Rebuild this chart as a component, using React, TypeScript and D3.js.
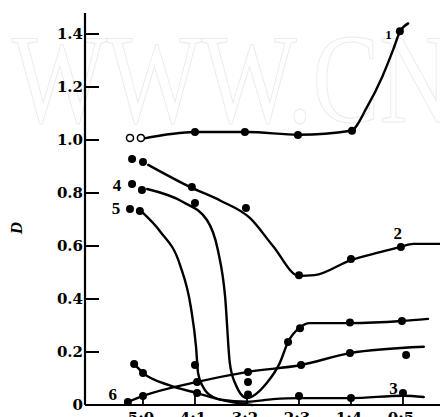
import * as d3 from "d3";

// ratio categories on the x axis (index 0..5)
const ratioLabels = ["5:0", "4:1", "3:2", "2:3", "1:4", "0:5"];
const yTicks = [0, 0.2, 0.4, 0.6, 0.8, 1.0, 1.2, 1.4];

// measured points [ratio index, D]
const pts1 = [[1, 1.03], [1.96, 1.03], [2.98, 1.019], [4.02, 1.035], [4.94, 1.41]];
const open1 = [[-0.25, 1.008], [-0.04, 1.008]];
const pts2 = [[-0.21, 0.928], [0, 0.917], [0.94, 0.823], [1.98, 0.743], [3, 0.49], [4, 0.551], [4.96, 0.596]];
const pts3 = [[-0.17, 0.155], [0, 0.121], [1.04, 0.045], [3.0, 0.034], [4.0, 0.026], [5.0, 0.045]];
const pts4 = [[-0.21, 0.834], [-0.02, 0.811], [1.0, 0.762], [2.02, 0.04], [2.79, 0.238], [3.02, 0.29], [3.98, 0.311], [4.98, 0.317]];
const pts5 = [[-0.25, 0.74], [-0.06, 0.732], [1.0, 0.151], [2.02, 0.087]];
const pts6 = [[-0.29, 0.011], [0, 0.034], [1.04, 0.087], [2.02, 0.125], [3.04, 0.151], [3.98, 0.196], [5.06, 0.189]];

// fitted curves as drawn (hand-smoothed in the source)
const curve1 = [[0, 1.005], [1, 1.03], [2, 1.03], [3, 1.02], [4, 1.035], [4.31, 1.125], [4.6, 1.238], [4.81, 1.34], [4.94, 1.408], [5.1, 1.44]];
const curve2 = [[0.1, 0.906], [0.9, 0.823], [1.5, 0.77], [2.06, 0.705], [2.5, 0.6], [3.0, 0.487], [3.3, 0.49], [4.0, 0.547], [4.56, 0.577], [4.94, 0.596], [5.2, 0.608], [5.71, 0.608]];
const curve3 = [[-0.17, 0.155], [0, 0.121], [0.5, 0.075], [1.04, 0.045], [1.5, 0.02], [2.0, 0.012], [2.5, 0.022], [3.0, 0.026], [4.0, 0.026], [5.0, 0.035], [5.4, 0.03]];
const curve4 = [[0.08, 0.815], [0.77, 0.766], [1.23, 0.698], [1.44, 0.585], [1.58, 0.408], [1.67, 0.158], [1.77, 0.083], [2.0, 0.026], [2.38, 0.083], [2.63, 0.158], [2.79, 0.238], [3.0, 0.29], [3.21, 0.309], [3.98, 0.309], [4.98, 0.317], [5.48, 0.325]];
const curve5 = [[0, 0.725], [0.33, 0.655], [0.71, 0.53], [0.92, 0.37], [1.02, 0.22], [1.06, 0.12], [1.15, 0.07], [1.35, 0.03], [1.8, 0.008], [2.1, 0.0]];
const curve6 = [[-0.29, 0.011], [0, 0.034], [1.04, 0.087], [2.02, 0.125], [3.04, 0.151], [3.98, 0.196], [5.4, 0.22]];

// curve number labels [index, D, text]
const curveLabels: [number, number, string][] = [
  [4.72, 1.4, "1"], [4.9, 0.65, "2"], [4.82, 0.065, "3"],
  [-0.5, 0.83, "4"], [-0.52, 0.745, "5"], [-0.58, 0.04, "6"],
];

const W = 440;
const H = 417;

const x = d3.scaleLinear().domain([-1.115, 5.712]).range([85, 440]);
const y = d3.scaleLinear().domain([0, 1.4]).range([405, 34]);

const line = d3.line<number[]>()
  .x(d => x(d[0]))
  .y(d => y(d[1]))
  .curve(d3.curveMonotoneX);

const font = "'Liberation Serif', 'DejaVu Serif', serif";
const tickFont = "'DejaVu Serif', serif";

export default function App() {
  const curves = [curve1, curve2, curve3, curve4, curve5, curve6];
  const points = [...pts1, ...pts2, ...pts3, ...pts4, ...pts5, ...pts6];

  return (
    <svg width={W} height={H} viewBox={`0 0 ${W} ${H}`}
      style={{ position: "absolute", left: 0, top: 0, background: "#fff" }}>
      {/* watermark */}
      <text x={12} y={122} fontFamily={font} fontSize={128} fill="none"
        stroke="#ebebeb" strokeWidth={1.1} textLength={440} lengthAdjust="spacingAndGlyphs">
        WWW.CN
      </text>

      {/* axes */}
      <line x1={85} x2={85} y1={13} y2={y(0)} stroke="#000" strokeWidth={2.2} />
      <line x1={85} x2={W} y1={y(0)} y2={y(0)} stroke="#000" strokeWidth={2.2} />

      {yTicks.map(t => (
        <g key={t}>
          {t > 0 && <line x1={85} x2={99} y1={y(t)} y2={y(t)} stroke="#000" strokeWidth={2} />}
          <text x={83} y={y(t)} dy="0.36em" textAnchor="end" fontFamily={tickFont}
            fontWeight="bold" fontSize={15} fill="#000">
            {t === 0 ? "0" : t.toFixed(1)}
          </text>
        </g>
      ))}

      {ratioLabels.map((r, i) => (
        <g key={r}>
          <line x1={x(i)} x2={x(i)} y1={y(0)} y2={y(0) - 9} stroke="#000" strokeWidth={1.8} />
          <text x={x(i) - 2} y={y(0) + 18} textAnchor="middle" fontFamily={tickFont}
            fontWeight="bold" fontSize={15} fill="#000">{r}</text>
        </g>
      ))}

      <text transform={`translate(22,228) rotate(-90)`} textAnchor="middle" fontFamily={font}
        fontStyle="italic" fontWeight="bold" fontSize={17} fill="#000">D</text>

      {curves.map((c, i) => (
        <path key={i} d={line(c) || ""} fill="none" stroke="#000" strokeWidth={2.4}
          strokeLinecap="round" />
      ))}

      {points.map((p, i) => (
        <circle key={i} cx={x(p[0])} cy={y(p[1])} r={4} fill="#000" />
      ))}
      {open1.map((p, i) => (
        <circle key={i} cx={x(p[0])} cy={y(p[1])} r={3.5} fill="#fff" stroke="#000" strokeWidth={1.5} />
      ))}

      {curveLabels.map(([i, d, t]) => (
        <text key={t} x={x(i)} y={y(d)} dy="0.35em" textAnchor="middle" fontFamily={font}
          fontWeight="bold" fontSize={t === "1" ? 13 : 17} fill="#000">{t}</text>
      ))}
    </svg>
  );
}
